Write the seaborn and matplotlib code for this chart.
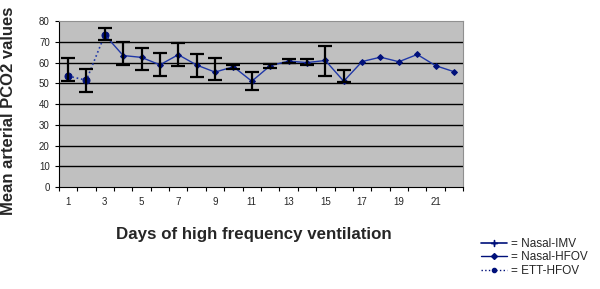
import matplotlib
matplotlib.use("Agg")
import matplotlib.pyplot as plt
import numpy as np
import pandas as pd
import seaborn as sns
from matplotlib.lines import Line2D

# data
days = list(range(1, 23))
mean_pco2 = [53.5, 51.5, 73.4, 63.4, 62.5, 58.9, 63.8, 58.8, 55.4, 58.0, 51.0,
             58.5, 60.7, 60.0, 61.0, 51.0, 60.5, 62.6, 60.4, 63.9, 58.5, 55.6]
err_days = list(range(1, 17))
err_top = [62.0, 56.8, 76.8, 69.7, 67.1, 64.7, 69.6, 63.9, 62.3, 58.6, 55.6,
           59.4, 61.8, 61.5, 68.1, 56.4]
err_bot = [51.2, 45.7, 71.0, 58.6, 56.4, 53.3, 58.5, 52.8, 51.4, 57.0, 46.9,
           57.5, 59.6, 58.6, 53.5, 50.5]
ett_days = [1, 2, 3]
tick_days = [1, 3, 5, 7, 9, 11, 13, 15, 17, 19, 21]

df = pd.DataFrame({"Day": days, "PCO2": mean_pco2})
ett = df[df.Day.isin(ett_days)]
hfov = df[df.Day >= 3]

sns.set_style("white")
plt.rcParams['font.family'] = ['Liberation Sans', 'DejaVu Sans']

fig = plt.figure(figsize=(6, 2.89), dpi=100)
ax = fig.add_axes([0.098, 0.353, 0.674, 0.574])
ax.set_facecolor("#c0c0c0")

for y in range(10, 80, 10):
    ax.axhline(y, color="black", lw=1.0, zorder=1)

line_col = "#2038a8"
mark_col = "#00107a"
sns.lineplot(data=ett, x="Day", y="PCO2", ax=ax, color=line_col, lw=1.2,
             linestyle=":", marker="o", markersize=5, markerfacecolor=mark_col,
             markeredgecolor=mark_col, zorder=3)
sns.lineplot(data=hfov, x="Day", y="PCO2", ax=ax, color=line_col, lw=1.0,
             marker="D", markersize=3, markerfacecolor=mark_col,
             markeredgecolor=mark_col, zorder=3)

m = np.array(mean_pco2[:len(err_days)])
ax.errorbar(err_days, m, yerr=[m - np.array(err_bot), np.array(err_top) - m],
            fmt="none", ecolor="black", elinewidth=1.6, capsize=5, capthick=1.6,
            zorder=4)

ax.set_xlim(0.5, 22.5)
ax.set_ylim(0, 80)
ax.set_yticks(range(0, 81, 10))
ax.set_xticks(tick_days)
ax.set_xticks(np.arange(0.5, 23, 1), minor=True)
ax.tick_params(axis="x", which="major", length=0, labelsize=7, pad=7)
ax.tick_params(axis="x", which="minor", length=3, width=0.8, color="black",
               direction="out", bottom=True)
ax.tick_params(axis="y", labelsize=7, length=3, width=0.8, color="black",
               direction="out", left=True)
for s in ["top", "right"]:
    ax.spines[s].set_color("#909090")
for s in ["left", "bottom"]:
    ax.spines[s].set_color("black")
    ax.spines[s].set_linewidth(0.8)

ax.set_xlabel("Days of high frequency ventilation", fontsize=12.2,
              fontweight="bold")
ax.xaxis.set_label_coords(0.483, -0.24)
ax.set_ylabel("Mean arterial PCO2 values", fontsize=12, fontweight="bold")
ax.yaxis.set_label_coords(-0.105, 0.46)

handles = [
    Line2D([0], [0], color=mark_col, lw=1.2, marker="$+$", markersize=5),
    Line2D([0], [0], color=mark_col, lw=1.0, marker="D", markersize=3),
    Line2D([0], [0], color=mark_col, lw=1.0, linestyle=":", marker="o",
           markersize=3),
]
labels = ["= Nasal-IMV", "= Nasal-HFOV", "= ETT-HFOV"]
fig.legend(handles, labels, loc="lower right", bbox_to_anchor=(0.995, 0.01),
           frameon=False, fontsize=8.5, handlelength=2.2, handletextpad=0.3,
           labelspacing=0.1, borderpad=0.3)

fig.savefig("out.png", dpi=100)
